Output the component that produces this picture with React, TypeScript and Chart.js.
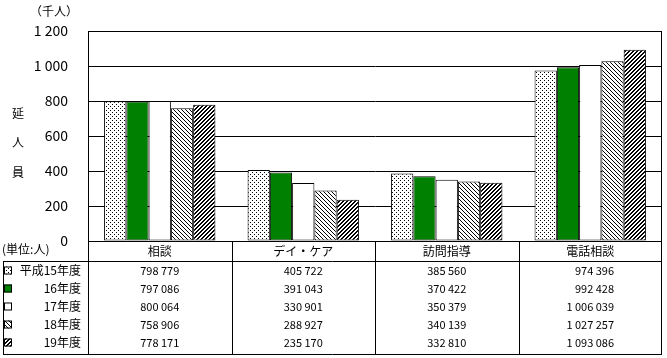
import React, { useEffect, useRef } from "react";
import { Chart, registerables } from "chart.js";

Chart.register(...registerables);

// ---- data ----
const categories = ["相談", "デイ・ケア", "訪問指導", "電話相談"];
const seriesLabels = ["平成15年度", "16年度", "17年度", "18年度", "19年度"];
const h15 = [798779, 405722, 385560, 974396];
const h16 = [797086, 391043, 370422, 992428];
const h17 = [800064, 330901, 350379, 1006039];
const h18 = [758906, 288927, 340139, 1027257];
const h19 = [778171, 235170, 332810, 1093086];
const seriesValues = [h15, h16, h17, h18, h19];
const yMin = 0;
const yMax = 1200;
const yStep = 200;
const unitLabel = "（千人）";
const yTitleChars = ["延", "人", "員"];
const tableUnit = "(単位:人)";

const FONT = '"Noto Sans CJK JP", "Noto Sans", sans-serif';

function fmt(n: number): string {
  return String(n).replace(/\B(?=(\d{3})+(?!\d))/g, " ");
}

function makePattern(kind: string): CanvasPattern | string {
  if (kind === "green") return "#008000";
  if (kind === "white") return "#ffffff";
  const c = document.createElement("canvas");
  c.width = 4;
  c.height = 4;
  const g = c.getContext("2d")!;
  g.fillStyle = "#ffffff";
  g.fillRect(0, 0, 4, 4);
  g.fillStyle = "#000000";
  for (let y = 0; y < 4; y++) {
    for (let x = 0; x < 4; x++) {
      let on = false;
      if (kind === "dots") on = (x === 0 && y === 0) || (x === 2 && y === 2);
      if (kind === "back") on = x === y;
      if (kind === "fwd") on = (x + y) % 4 === 3 || (x + y) % 4 === 0;
      if (on) g.fillRect(x, y, 1, 1);
    }
  }
  return g.createPattern(c, "repeat")!;
}

const patternKinds = ["dots", "green", "white", "back", "fwd"];

export default function App() {
  const ref = useRef<HTMLCanvasElement | null>(null);

  useEffect(() => {
    const canvas = ref.current;
    if (!canvas) return;
    const fills = patternKinds.map(makePattern);

    const tablePlugin = {
      id: "dataTable",
      afterDraw(chart: any) {
        const ctx: CanvasRenderingContext2D = chart.ctx;
        const { left, right, top, bottom } = chart.chartArea;
        const L = Math.round(left);
        const R = Math.round(right);
        const T = Math.round(top);
        const B = Math.round(bottom);
        ctx.save();
        ctx.strokeStyle = "#000";
        ctx.lineWidth = 1;
        const line = (x1: number, y1: number, x2: number, y2: number) => {
          ctx.beginPath();
          ctx.moveTo(x1, y1);
          ctx.lineTo(x2, y2);
          ctx.stroke();
        };
        // plot border
        ctx.strokeRect(L + 0.5, T + 0.5, R - L - 1, B - T);

        // table geometry
        const headerBottom = B + 20;
        const rowH = 18;
        const tableBottom = headerBottom + seriesValues.length * rowH + 3;
        const n = categories.length;
        const colW = (right - left) / n;
        // horizontal lines
        line(3, headerBottom + 0.5, R, headerBottom + 0.5);
        line(3, tableBottom + 0.5, R, tableBottom + 0.5);
        // vertical lines
        line(3.5, headerBottom, 3.5, tableBottom + 1);
        for (let i = 0; i <= n; i++) {
          const xx = Math.round(left + i * colW) + (i === n ? -0.5 : 0.5);
          line(xx, B, xx, tableBottom + 1);
        }

        ctx.fillStyle = "#000";
        ctx.textBaseline = "middle";
        // header
        ctx.font = `12px ${FONT}`;
        ctx.textAlign = "center";
        categories.forEach((c, i) => {
          ctx.fillText(c, left + (i + 0.5) * colW, B + 10.5);
        });
        // unit label of table
        ctx.textAlign = "left";
        ctx.fillText(tableUnit, 2, B + 8);

        // rows
        seriesValues.forEach((vals, s) => {
          const cy = headerBottom + 9.5 + s * rowH;
          // icon
          ctx.fillStyle = fills[s] as any;
          ctx.fillRect(4, cy - 4, 8, 8);
          ctx.strokeRect(4.5, cy - 3.5, 7, 7);
          ctx.fillStyle = "#000";
          ctx.font = `12px ${FONT}`;
          ctx.textAlign = "right";
          ctx.fillText(seriesLabels[s], 81, cy);
        });
        // values
        ctx.font = `11px ${FONT}`;
        ctx.textAlign = "right";
        for (let c = 0; c < n; c++) {
          const strs = seriesValues.map((v) => fmt(v[c]));
          const maxW = Math.max(...strs.map((t) => ctx.measureText(t).width));
          const rightEdge = left + (c + 0.5) * colW + maxW / 2;
          strs.forEach((t, s) => {
            ctx.fillText(t, rightEdge, headerBottom + 9.5 + s * rowH);
          });
        }

        // axis titles
        ctx.font = `12px ${FONT}`;
        ctx.textAlign = "center";
        ctx.fillText(unitLabel, 54, 11);
        yTitleChars.forEach((ch, i) => {
          ctx.fillText(ch, 18, 113 + i * 29.5);
        });
        ctx.restore();
      },
    };

    const chart = new Chart(canvas, {
      type: "bar",
      data: {
        labels: categories,
        datasets: seriesValues.map((vals, s) => ({
          label: seriesLabels[s],
          data: vals.map((v) => v / 1000),
          backgroundColor: fills[s] as any,
          borderColor: "#000",
          borderWidth: 1,
          borderSkipped: false as any,
          categoryPercentage: 0.776,
          barPercentage: 1.0,
        })),
      },
      options: {
        responsive: false,
        animation: false,
        devicePixelRatio: 1,
        layout: { padding: { top: 31, right: 5, bottom: 117, left: 0 } },
        plugins: {
          legend: { display: false },
          tooltip: { enabled: false },
          title: { display: false },
        },
        scales: {
          x: {
            display: false,
          },
          y: {
            min: yMin,
            max: yMax,
            afterFit: (scale: any) => {
              scale.width = 88;
            },
            ticks: {
              stepSize: yStep,
              color: "#000",
              font: { family: FONT, size: 14 },
              padding: 20,
              callback: (v: any) => fmt(Number(v)),
            },
            grid: {
              color: "#000",
              drawTicks: false,
              lineWidth: 1,
            },
            border: { color: "#000", width: 1 },
          },
        },
      },
      plugins: [tablePlugin],
    });
    return () => chart.destroy();
  }, []);

  return (
    <div style={{ position: "absolute", left: 0, top: 0, width: 667, height: 358, background: "#fff" }}>
      <canvas ref={ref} width={667} height={358} style={{ display: "block" }} />
    </div>
  );
}
